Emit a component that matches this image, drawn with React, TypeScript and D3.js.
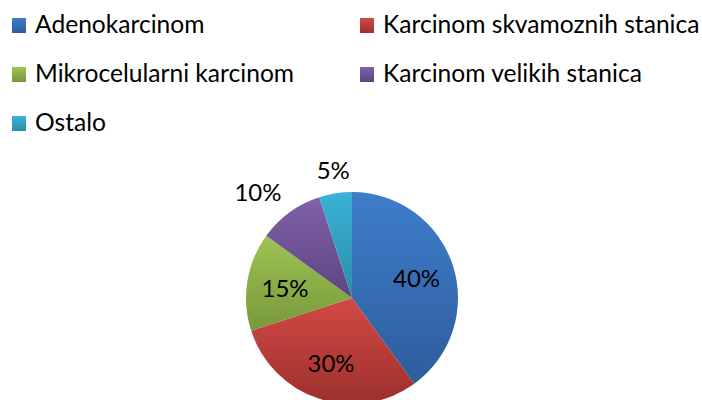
import React, { useEffect, useRef } from 'react';
import * as d3 from 'd3';

const categories = ['Adenokarcinom', 'Karcinom skvamoznih stanica', 'Mikrocelularni karcinom', 'Karcinom velikih stanica', 'Ostalo'];
const values = [40, 30, 15, 10, 5];
const labels = ['40%', '30%', '15%', '10%', '5%'];
// light (top) and dark (bottom) gradient stops per slice
const topColors = ['#3e7dcb', '#d24a45', '#9dc453', '#8161ab', '#3bb2d6'];
const bottomColors = ['#2d5d9c', '#9c2f2c', '#78983b', '#5d457d', '#2a8eaa'];

const WIDTH = 702;
const HEIGHT = 400;
const FONT = 'Lato, "Open Sans", sans-serif';

export default function App() {
  const ref = useRef<SVGSVGElement>(null);

  useEffect(() => {
    if (!ref.current) return;
    const svg = d3.select(ref.current);
    svg.selectAll('*').remove();

    const defs = svg.append('defs');
    categories.forEach((_, i) => {
      const g = defs.append('linearGradient')
        .attr('id', `grad${i}`)
        .attr('x1', 0).attr('y1', 0).attr('x2', 0).attr('y2', 1);
      g.append('stop').attr('offset', '0%').attr('stop-color', topColors[i]);
      g.append('stop').attr('offset', '100%').attr('stop-color', bottomColors[i]);
    });

    // Legend: two columns
    const legend = svg.append('g');
    const colX = [12, 360];
    const rowY = [33, 82, 131];
    categories.forEach((c, i) => {
      const x = colX[i % 2];
      const y = rowY[Math.floor(i / 2)];
      legend.append('rect')
        .attr('x', x).attr('y', y - 15)
        .attr('width', 14).attr('height', 15)
        .attr('fill', `url(#grad${i})`);
      legend.append('text')
        .attr('x', x + 23).attr('y', y)
        .style('font-family', FONT)
        .style('font-size', '24.6px')
        .style('fill', '#000')
        .text(c);
    });

    // Pie
    const cx = 352;
    const cy = 298;
    const radius = 106;
    const pie = d3.pie<number>().sort(null).value(d => d);
    const arcs = pie(values);
    const arc = d3.arc<d3.PieArcDatum<number>>().innerRadius(0).outerRadius(radius);
    const inner = d3.arc<d3.PieArcDatum<number>>().innerRadius(radius * 0.64).outerRadius(radius * 0.64);

    const g = svg.append('g').attr('transform', `translate(${cx},${cy})`);
    g.selectAll('path')
      .data(arcs)
      .enter()
      .append('path')
      .attr('d', arc)
      .attr('fill', (_, i) => `url(#grad${i})`);

    arcs.forEach((a, i) => {
      const mid = (a.startAngle + a.endAngle) / 2;
      const outside = a.data <= 10;
      if (!outside) {
        const [lx, ly] = inner.centroid(a);
        g.append('text')
          .attr('x', lx).attr('y', ly)
          .attr('text-anchor', 'middle')
          .attr('dominant-baseline', 'central')
          .style('font-family', FONT)
          .style('font-size', '24px')
          .style('fill', '#000')
          .text(labels[i]);
      } else {
        const r = radius + 14;
        const s = Math.sin(mid);
        const lx = r * s;
        const ly = -r * Math.cos(mid);
        g.append('text')
          .attr('x', lx).attr('y', ly)
          .attr('text-anchor', s < -0.3 ? 'end' : s > 0.3 ? 'start' : 'middle')
          .style('font-family', FONT)
          .style('font-size', '24px')
          .style('fill', '#000')
          .text(labels[i]);
      }
    });
  }, []);

  return (
    <svg
      ref={ref}
      width={WIDTH}
      height={HEIGHT}
      style={{ position: 'absolute', left: 0, top: 0, background: '#fff', display: 'block' }}
    />
  );
}
